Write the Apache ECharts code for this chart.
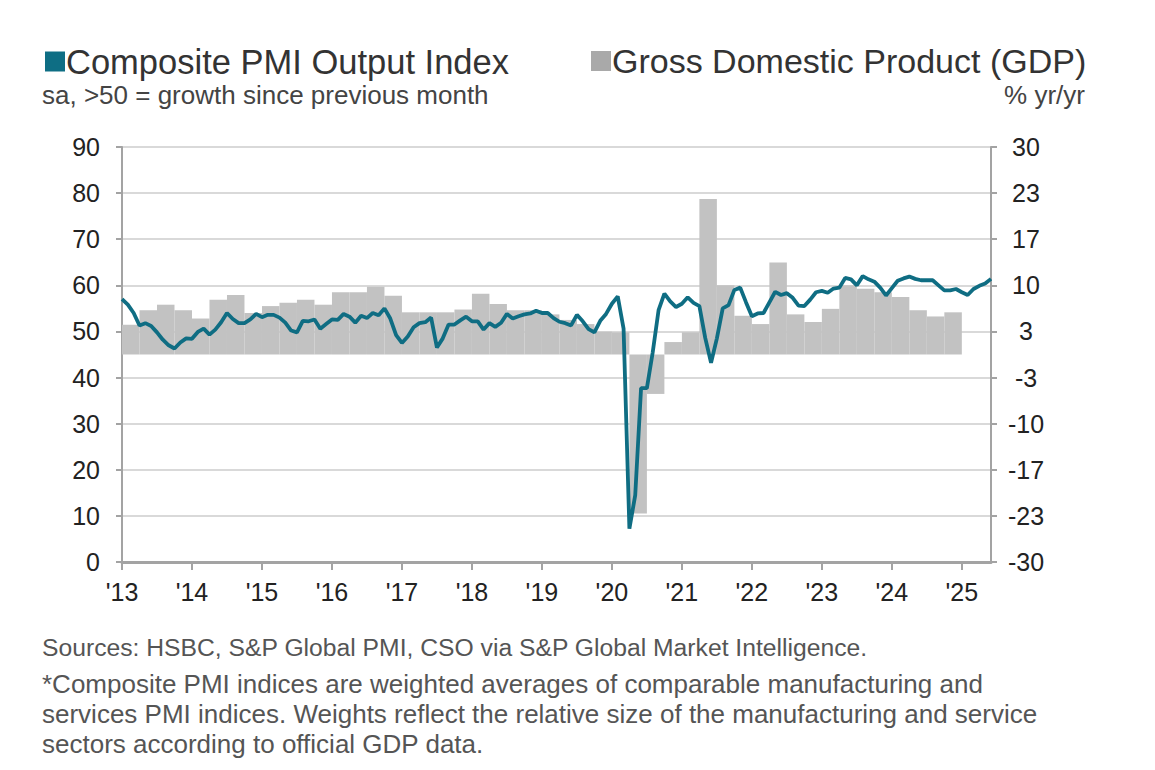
<!DOCTYPE html>
<html>
<head>
<meta charset="utf-8">
<script src="https://cdn.jsdelivr.net/npm/echarts@6/dist/echarts.min.js"></script>
<style>
html,body{margin:0;padding:0;background:#ffffff;}
#chart{width:1155px;height:770px;}
</style>
</head>
<body>
<div id="chart"></div>
<script>
// ---- Data ----
const yearLabels = ["'13","'14","'15","'16","'17","'18","'19","'20","'21","'22","'23","'24","'25"];

// Composite PMI Output Index, monthly Jan 2013 - Jun 2025
const pmi2013 = [57.0,55.8,54.0,51.3,51.8,51.2,49.8,48.2,47.0,46.3,47.6,48.5];
const pmi2014 = [48.4,49.9,50.6,49.3,50.4,52.0,54.0,52.7,51.8,51.8,52.6,53.8];
const pmi2015 = [53.1,53.6,53.6,53.0,51.9,50.2,49.8,52.3,52.2,52.6,50.6,51.6];
const pmi2016 = [52.6,52.5,53.8,53.2,51.9,53.4,52.9,54.0,53.5,55.0,52.8,49.2];
const pmi2017 = [47.5,48.9,50.9,51.8,52.0,53.0,46.5,48.5,51.5,51.5,52.4,53.2];
const pmi2018 = [52.2,52.2,50.4,51.8,51.0,51.9,53.8,52.8,53.3,53.7,53.9,54.5];
const pmi2019 = [54.0,54.0,52.9,52.1,51.8,51.3,53.6,52.2,50.5,49.8,52.3,53.8];
const pmi2020 = [56.0,57.6,50.6,7.2,14.5,37.7,37.7,45.5,54.6,58.2,56.5,55.3];
const pmi2021 = [56.0,57.4,56.2,55.5,48.6,43.2,48.5,55.0,55.7,59.0,59.5,56.3];
const pmi2022 = [53.3,53.9,54.0,56.3,58.6,57.9,58.3,57.3,55.6,55.5,56.9,58.5];
const pmi2023 = [58.8,58.4,59.3,59.5,61.6,61.3,60.0,62.0,61.3,60.8,59.5,57.8];
const pmi2024 = [59.4,61.0,61.5,61.9,61.4,61.1,61.1,61.1,60.0,58.9,58.9,59.2];
const pmi2025 = [58.5,57.9,59.2,59.9,60.4,61.4];

// GDP % yr/yr, quarterly Q1 2013 - Q4 2024
const gdp2013 = [4.3,6.4,7.2,6.4];
const gdp2014 = [5.2,7.9,8.6,6.0];
const gdp2015 = [7.0,7.5,7.9,7.2];
const gdp2016 = [9.0,9.0,9.8,8.5];
const gdp2017 = [6.1,6.1,6.1,6.5];
const gdp2018 = [8.8,7.3,6.4,6.4];
const gdp2019 = [5.8,5.0,4.4,3.3];
const gdp2020 = [3.2,-23.0,-5.7,1.8];
const gdp2021 = [3.2,22.5,10.0,5.6];
const gdp2022 = [4.4,13.3,5.8,4.7];
const gdp2023 = [6.6,10.0,9.5,9.0];
const gdp2024 = [8.3,6.4,5.5,6.1];

const pmi = [].concat(pmi2013,pmi2014,pmi2015,pmi2016,pmi2017,pmi2018,pmi2019,pmi2020,pmi2021,pmi2022,pmi2023,pmi2024,pmi2025);
const gdp = [].concat(gdp2013,gdp2014,gdp2015,gdp2016,gdp2017,gdp2018,gdp2019,gdp2020,gdp2021,gdp2022,gdp2023,gdp2024);

const pmiName = 'Composite PMI Output Index';
const gdpName = 'Gross Domestic Product (GDP)';
const subLeft = 'sa, >50 = growth since previous month';
const subRight = '% yr/yr';
const footnotes = [
  'Sources: HSBC, S&P Global PMI, CSO via S&P Global Market Intelligence.',
  '*Composite PMI indices are weighted averages of comparable manufacturing and',
  'services PMI indices. Weights reflect the relative size of the manufacturing and service',
  'sectors according to official GDP data.'
];

// ---- Build ----
const FONT = "'Liberation Sans', Arial, sans-serif";
const lineData = pmi.map((v, i) => [i, v]);
const barData = gdp.map((v, k) => [3 * k, 3 * k + 3, v]);
const yearTicks = yearLabels.map((_, i) => i * 12);

const chart = echarts.init(document.getElementById('chart'), null, {renderer: 'svg'});

const axisGray = '#a3a3a3';

const option = {
  animation: false,
  backgroundColor: '#ffffff',
  grid: {left: 122, right: 164, top: 147, bottom: 208, containLabel: false},
  legend: [
    {
      data: [{name: pmiName, itemStyle: {color: '#0e6e84'}}],
      left: 40, top: 39, icon: 'rect', itemWidth: 20, itemHeight: 20, itemGap: 4,
      selectedMode: false,
      textStyle: {fontFamily: FONT, fontSize: 34.5, color: '#333333', padding: [0,0,0,-4]}
    },
    {
      data: [{name: gdpName, itemStyle: {color: '#a9a9a9'}}],
      left: 586, top: 39, icon: 'rect', itemWidth: 20, itemHeight: 20, itemGap: 4,
      selectedMode: false,
      textStyle: {fontFamily: FONT, fontSize: 34, color: '#333333', padding: [0,0,0,-4]}
    }
  ],
  graphic: [
    {type: 'text', left: 42, top: 82, style: {text: subLeft, font: '26px ' + FONT, fill: '#444444'}},
    {type: 'text', right: 70, top: 82, style: {text: subRight, font: '26px ' + FONT, fill: '#444444'}},
    {type: 'text', left: 42, top: 635, style: {text: footnotes[0], font: '24.7px ' + FONT, fill: '#555555'}},
    {type: 'text', left: 42, top: 671, style: {text: footnotes[1], font: '26px ' + FONT, fill: '#555555'}},
    {type: 'text', left: 42, top: 701, style: {text: footnotes[2], font: '26px ' + FONT, fill: '#555555'}},
    {type: 'text', left: 42, top: 731, style: {text: footnotes[3], font: '26px ' + FONT, fill: '#555555'}}
  ],
  xAxis: {
    type: 'value', min: 0, max: pmi.length - 1, interval: 12,
    axisLine: {show: true, onZero: false, lineStyle: {color: axisGray, width: 3}},
    axisTick: {show: true, length: 8, customValues: yearTicks, lineStyle: {color: axisGray, width: 2}},
    axisLabel: {
      customValues: yearTicks, margin: 17, fontFamily: FONT, fontSize: 25, color: '#222222',
      formatter: v => (v % 12 === 0 ? yearLabels[Math.round(v / 12)] : '')
    },
    splitLine: {show: false}
  },
  yAxis: [
    {
      type: 'value', min: 0, max: 90, interval: 10, position: 'left',
      axisLine: {show: true, lineStyle: {color: axisGray, width: 2}},
      axisTick: {show: true, length: 6, lineStyle: {color: axisGray, width: 2}},
      axisLabel: {margin: 22, fontFamily: FONT, fontSize: 25, color: '#222222'},
      splitLine: {show: true, lineStyle: {color: '#d9d9d9', width: 2}}
    },
    {
      type: 'value', min: -30, max: 30, interval: 20 / 3, position: 'right',
      axisLine: {show: true, lineStyle: {color: axisGray, width: 2}},
      axisTick: {show: true, length: 6, lineStyle: {color: axisGray, width: 2}},
      axisLabel: {margin: 35, align: 'center', fontFamily: FONT, fontSize: 25, color: '#222222',
        formatter: v => String(Math.round(v))},
      splitLine: {show: false}
    }
  ],
  series: [
    {
      name: gdpName, type: 'custom', xAxisIndex: 0, yAxisIndex: 1, z: 1,
      itemStyle: {color: '#c2c2c2'},
      encode: {x: [0, 1], y: 2},
      data: barData,
      renderItem: function (params, api) {
        const p0 = api.coord([api.value(0), 0]);
        const p1 = api.coord([api.value(1), api.value(2)]);
        return {
          type: 'rect',
          shape: {x: p0[0], y: Math.min(p0[1], p1[1]), width: p1[0] - p0[0], height: Math.abs(p1[1] - p0[1])},
          style: {fill: '#c2c2c2'}
        };
      }
    },
    {
      name: pmiName, type: 'line', xAxisIndex: 0, yAxisIndex: 0, z: 3,
      data: lineData, showSymbol: false, symbol: 'none',
      lineStyle: {color: '#0f6d83', width: 3.8},
      itemStyle: {color: '#0e6e84'}
    }
  ]
};
chart.setOption(option);
</script>
</body>
</html>
